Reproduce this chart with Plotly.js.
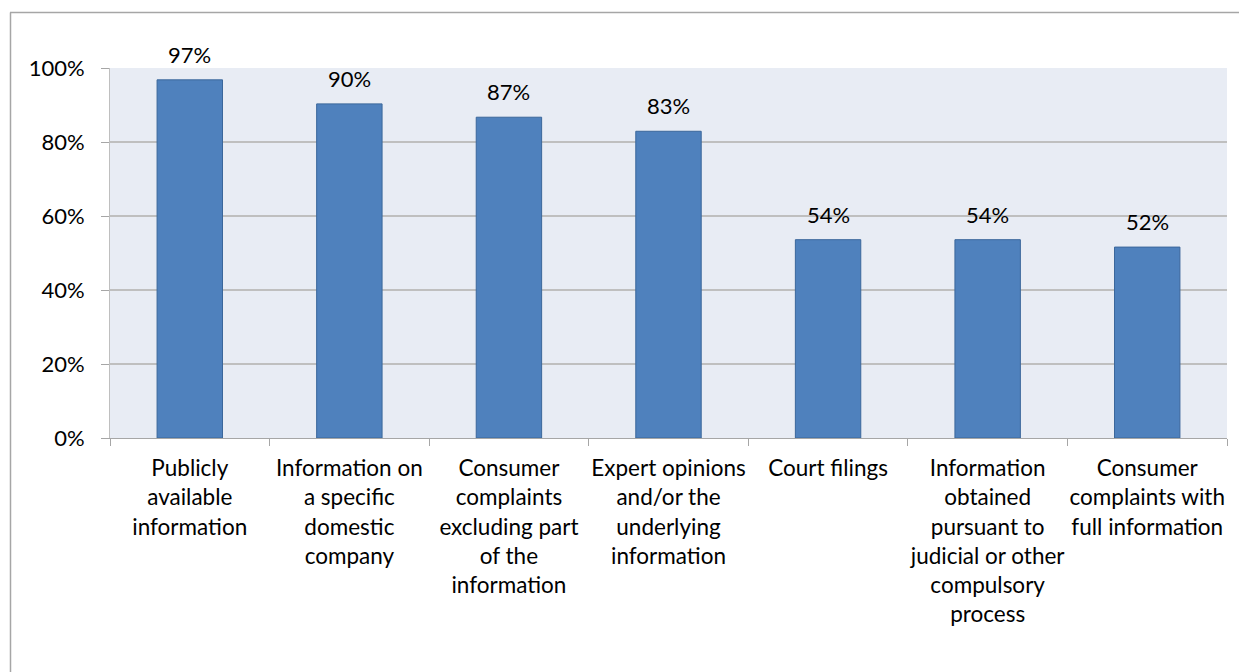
<!DOCTYPE html>
<html>
<head>
<meta charset="utf-8">
<script src="https://cdn.plot.ly/plotly-3.0.1.min.js"></script>
<style>html,body{margin:0;padding:0;background:#fff;}#chart{width:1239px;height:672px;}</style>
</head>
<body>
<div id="chart"></div>
<script>
const categories = [
  "Publicly<br>available<br>information",
  "Information on<br>a specific<br>domestic<br>company",
  "Consumer<br>complaints<br>excluding part<br>of the<br>information",
  "Expert opinions<br>and/or the<br>underlying<br>information",
  "Court filings",
  "Information<br>obtained<br>pursuant to<br>judicial or other<br>compulsory<br>process",
  "Consumer<br>complaints with<br>full information"
];
const values = [96.8, 90.3, 86.7, 82.9, 53.6, 53.6, 51.6];
const yTickVals = [0, 20, 40, 60, 80, 100];
const yTickText = ["0%", "20%", "40%", "60%", "80%", "100%"];

const font = "Lato, 'Open Sans', sans-serif";

const trace = {
  type: "bar",
  x: categories,
  y: values,
  width: 0.41,
  marker: { color: "#4F81BD", line: { color: "#3B679B", width: 1 } },
  hoverinfo: "none"
};

const annotations = categories.map((c, i) => ({
  x: c, y: values[i], xref: "x", yref: "y",
  text: Math.round(values[i]) + "%",
  showarrow: false,
  yanchor: "bottom",
  yshift: 10,
  font: { family: font, size: 22, color: "#000" }
}));

const layout = {
  width: 1239,
  height: 672,
  margin: { l: 110, r: 12, t: 68, b: 234 },
  paper_bgcolor: "#FFFFFF",
  plot_bgcolor: "#E8ECF4",
  showlegend: false,
  xaxis: {
    type: "category",
    tickson: "boundaries",
    ticks: "outside",
    ticklen: 7,
    tickcolor: "#A6A6A6",
    tickangle: 0,
    showline: true,
    linecolor: "#A6A6A6",
    linewidth: 1,
    showgrid: false,
    ticklabelstandoff: 10,
    tickfont: { family: font, size: 22.5, color: "#000" },
    automargin: false
  },
  yaxis: {
    range: [0, 100],
    tickvals: yTickVals,
    ticktext: yTickText,
    ticks: "outside",
    ticklen: 8,
    tickcolor: "#A6A6A6",
    showline: true,
    linecolor: "#BFBFBF",
    linewidth: 1,
    showgrid: true,
    gridcolor: "#BFBFBF",
    gridwidth: 1.3,
    zeroline: false,
    ticklabelstandoff: 12,
    tickfont: { family: font, size: 22, color: "#000" },
    automargin: false
  },
  annotations: annotations,
  shapes: [
    { type: "line", xref: "paper", yref: "paper",
      x0: (10 - 110) / 1117, x1: (1239 - 110) / 1117 + 0.01,
      y0: (438 - 12.5) / 370, y1: (438 - 12.5) / 370,
      line: { color: "#A6A6A6", width: 1.5 } },
    { type: "line", xref: "paper", yref: "paper",
      x0: (10.5 - 110) / 1117, x1: (10.5 - 110) / 1117,
      y0: (438 - 12.5) / 370, y1: (438 - 680) / 370,
      line: { color: "#A6A6A6", width: 1.5 } }
  ]
};

Plotly.newPlot("chart", [trace], layout, { displayModeBar: false, staticPlot: true });
</script>
</body>
</html>
